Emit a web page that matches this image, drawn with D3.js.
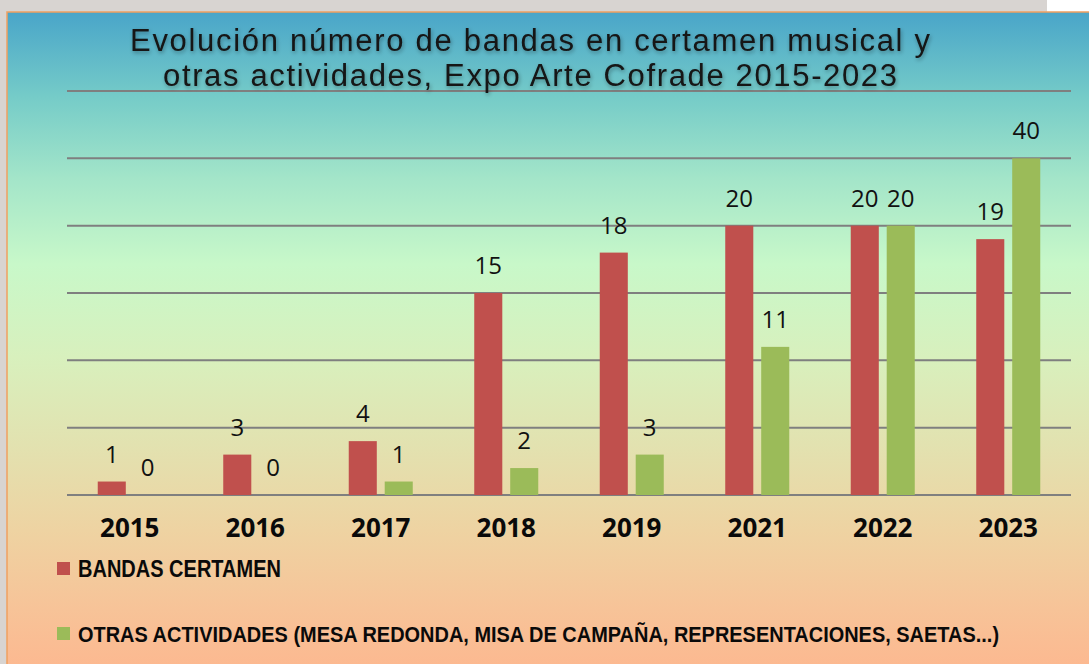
<!DOCTYPE html>
<html>
<head>
<meta charset="utf-8">
<script src="https://cdn.jsdelivr.net/npm/d3@7"></script>
<style>
  html, body { margin: 0; padding: 0; background: #d8d4d1; }
  svg { display: block; }
</style>
</head>
<body>
<div id="chart"></div>
<script>
// data
var years = ["2015", "2016", "2017", "2018", "2019", "2021", "2022", "2023"];
var bandas = [1, 3, 4, 15, 18, 20, 20, 19];
var otras = [0, 0, 1, 2, 3, 11, 20, 40];
var seriesNames = ["BANDAS CERTAMEN", "OTRAS ACTIVIDADES (MESA REDONDA, MISA DE CAMPAÑA, REPRESENTACIONES, SAETAS...)"];
var yTicks = [0, 5, 10, 15, 20, 25, 30];
// the original chart draws the 40 bar cut off at 25
var barCap = 25;

var WIDTH = 1089, HEIGHT = 664;
var colors = ["#c0504d", "#9bbb59"];

var svg = d3.select("#chart")
    .append("svg")
    .attr("width", WIDTH)
    .attr("height", HEIGHT);

var defs = svg.append("defs");
var grad = defs.append("linearGradient")
    .attr("id", "bg")
    .attr("x1", 0).attr("y1", 0).attr("x2", 0).attr("y2", 1);
[["0%", "#49a5c9"], ["13%", "#76ccc8"], ["25%", "#a3e5c9"], ["38%", "#c8f8c9"],
 ["52%", "#d8f0bd"], ["65%", "#e2e2b0"], ["78%", "#eed3a2"], ["90%", "#f7c398"], ["100%", "#fdb78f"]]
    .forEach(function(s) { grad.append("stop").attr("offset", s[0]).attr("stop-color", s[1]); });

var shadow = defs.append("filter").attr("id", "glow")
    .attr("x", "-5%").attr("y", "-30%").attr("width", "110%").attr("height", "160%");
shadow.append("feGaussianBlur").attr("in", "SourceAlpha").attr("stdDeviation", 2).attr("result", "b");
shadow.append("feOffset").attr("in", "b").attr("dx", 1).attr("dy", 2).attr("result", "o");
shadow.append("feComponentTransfer").attr("in", "o").attr("result", "s")
    .append("feFuncA").attr("type", "linear").attr("slope", 0.35);
var merge = shadow.append("feMerge");
merge.append("feMergeNode").attr("in", "s");
merge.append("feMergeNode").attr("in", "SourceGraphic");

// outer background bits
svg.append("rect").attr("x", 1047).attr("y", 0).attr("width", 42).attr("height", 12).attr("fill", "#ffffff");

// chart panel
svg.append("rect")
    .attr("x", 7).attr("y", 12)
    .attr("width", WIDTH).attr("height", HEIGHT)
    .attr("fill", "url(#bg)")
    .attr("stroke", "#f0a060")
    .attr("stroke-width", 1.5);

// scales
var x0 = d3.scaleBand()
    .domain(years)
    .range([67, 1071])
    .paddingInner(0.49)
    .paddingOuter(0.245);

var x1 = d3.scaleBand()
    .domain([0, 1])
    .range([0, x0.bandwidth()])
    .paddingInner(0.22);

var y = d3.scaleLinear()
    .domain([0, 30])
    .range([495, 91]);

// gridlines
svg.append("g")
    .selectAll("line")
    .data(yTicks)
    .enter()
    .append("line")
    .attr("x1", 67).attr("x2", 1071)
    .attr("y1", function(d) { return y(d); })
    .attr("y2", function(d) { return y(d); })
    .attr("stroke", "#7f7f7f")
    .attr("stroke-width", 2);

// bars
var rows = years.map(function(yr, i) {
    return { year: yr, values: [bandas[i], otras[i]] };
});

var groups = svg.selectAll("g.year")
    .data(rows)
    .enter()
    .append("g")
    .attr("class", "year")
    .attr("transform", function(d) { return "translate(" + x0(d.year) + ",0)"; });

var cells = groups.selectAll("g.cell")
    .data(function(d) { return d.values.map(function(v, k) { return { k: k, v: v }; }); })
    .enter()
    .append("g");

cells.append("rect")
    .attr("x", function(d) { return x1(d.k); })
    .attr("width", x1.bandwidth())
    .attr("y", function(d) { return y(Math.min(d.v, barCap)); })
    .attr("height", function(d) { return y(0) - y(Math.min(d.v, barCap)); })
    .attr("fill", function(d) { return colors[d.k]; });

cells.append("text")
    .text(function(d) { return d.v; })
    .attr("x", function(d) { return x1(d.k) + x1.bandwidth() / 2; })
    .attr("y", function(d) { return y(Math.min(d.v, barCap)) - 19; })
    .attr("text-anchor", "middle")
    .style("font-family", "'Open Sans', sans-serif")
    .style("font-size", "24px")
    .style("fill", "#111");

// year labels
svg.append("g")
    .selectAll("text")
    .data(years)
    .enter()
    .append("text")
    .text(function(d) { return d; })
    .attr("x", function(d) { return x0(d) + x0.bandwidth() / 2; })
    .attr("y", 537)
    .attr("text-anchor", "middle")
    .style("font-family", "'Open Sans', sans-serif")
    .style("font-weight", "bold")
    .style("font-size", "26px")
    .style("fill", "#0a0a0a");

// legend (condensed bold text, squeezed horizontally to the original width)
var legendY = [562, 627];
var legendW = [203, 922];
var legend = svg.selectAll("g.legend")
    .data(seriesNames)
    .enter()
    .append("g")
    .attr("class", "legend");

legend.append("rect")
    .attr("x", 57)
    .attr("y", function(d, i) { return legendY[i]; })
    .attr("width", 13).attr("height", 13)
    .attr("fill", function(d, i) { return colors[i]; });

legend.append("text")
    .text(function(d) { return d; })
    .attr("x", 0)
    .attr("y", 0)
    .style("font-family", "'Liberation Sans Narrow', 'Liberation Sans', sans-serif")
    .style("font-weight", "bold")
    .style("font-size", "23px")
    .style("fill", "#0a0a0a")
    .attr("transform", function(d, i) {
        var w = this.getComputedTextLength();
        return "translate(78," + (legendY[i] + 15) + ") scale(" + (legendW[i] / w) + ",1)";
    });

// title
var titleLines = ["Evolución número de bandas en certamen musical y",
                  "otras actividades, Expo Arte Cofrade 2015-2023"];
var titleW = [800, 734];
svg.append("g")
    .attr("filter", "url(#glow)")
    .selectAll("text")
    .data(titleLines)
    .enter()
    .append("text")
    .text(function(d) { return d; })
    .attr("x", 530)
    .attr("y", function(d, i) { return 51 + i * 35; })
    .attr("text-anchor", "middle")
    .attr("textLength", function(d, i) { return titleW[i]; })
    .attr("lengthAdjust", "spacing")
    .style("font-family", "'Liberation Sans Narrow', 'Liberation Sans', sans-serif")
    .style("font-size", "31px")
    .style("fill", "#141414");
</script>
</body>
</html>
